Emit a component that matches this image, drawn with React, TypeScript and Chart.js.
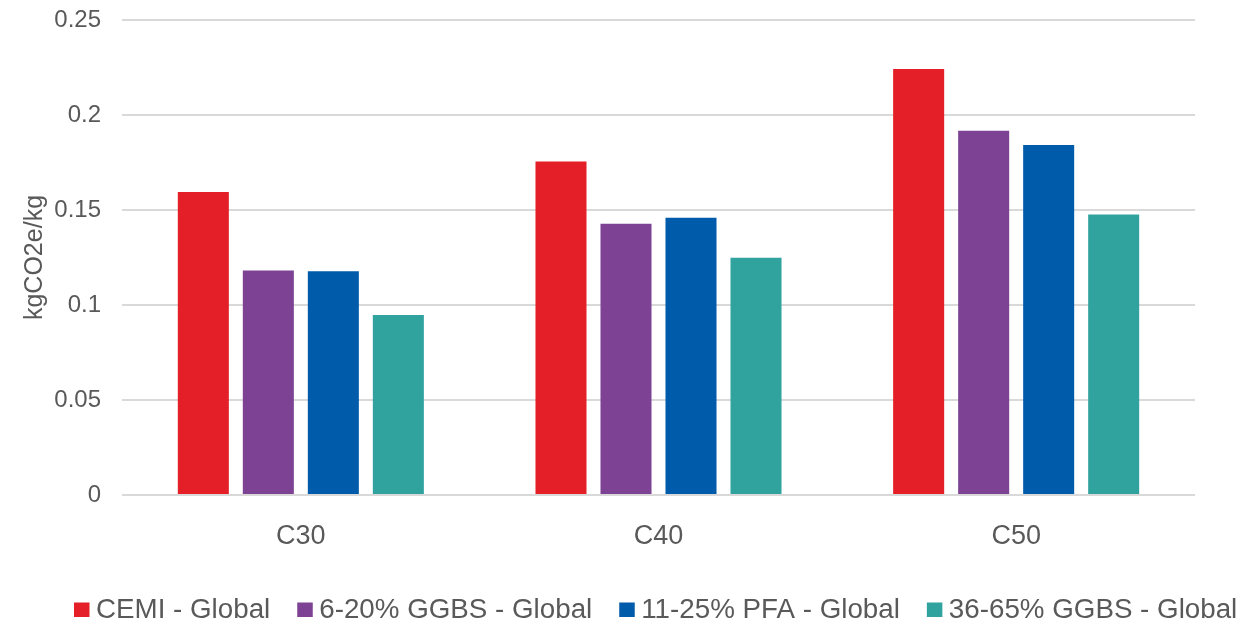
import React, { useEffect, useRef } from "react";
import { Chart, registerables } from "chart.js";

Chart.register(...registerables);

// Embodied carbon per kg of concrete, by strength class and cement blend
const categories = ["C30", "C40", "C50"];
const seriesLabels = [
  "CEMI - Global",
  "6-20% GGBS - Global",
  "11-25% PFA - Global",
  "36-65% GGBS - Global",
];
const cemiValues = [0.1595, 0.1755, 0.2242];
const ggbs620Values = [0.1182, 0.1427, 0.1917];
const pfa1125Values = [0.1177, 0.1459, 0.1842];
const ggbs3665Values = [0.0948, 0.1249, 0.1476];
const seriesColors = ["#E41F27", "#7D4293", "#005BAA", "#31A39E"];

const yTicks = [0, 0.05, 0.1, 0.15, 0.2, 0.25];
const yTitle = "kgCO2e/kg";

const TEXT = "#595959";
const GRID = "#D9D9D9";
const FONT = '"Liberation Sans", Arial, sans-serif';

// Legend drawn in one row under the axis, square swatch followed by the label
const bottomLegend = {
  id: "bottomLegend",
  afterDraw(chart: any) {
    const ctx = chart.ctx;
    ctx.save();
    ctx.font = `27.75px ${FONT}`;
    ctx.textBaseline = "alphabetic";
    ctx.textAlign = "left";
    let x = 74;
    const baseline = 618;
    chart.data.datasets.forEach((ds: any) => {
      ctx.fillStyle = ds.backgroundColor;
      ctx.fillRect(x, 602.5, 15.5, 14.5);
      x += 15.5 + 6.5;
      ctx.fillStyle = TEXT;
      ctx.fillText(ds.label, x, baseline);
      x += ctx.measureText(ds.label).width + 27;
    });
    ctx.restore();
  },
};

export default function App() {
  const canvasRef = useRef<HTMLCanvasElement | null>(null);

  useEffect(() => {
    if (!canvasRef.current) return;
    const seriesValues = [cemiValues, ggbs620Values, pfa1125Values, ggbs3665Values];
    const chart = new Chart(canvasRef.current, {
      type: "bar",
      data: {
        labels: categories,
        datasets: seriesValues.map((values, i) => ({
          label: seriesLabels[i],
          data: values,
          backgroundColor: seriesColors[i],
          borderWidth: 0,
          categoryPercentage: 0.727,
          barPercentage: 0.785,
        })),
      },
      options: {
        animation: false,
        responsive: false,
        maintainAspectRatio: false,
        layout: { padding: { top: 20, right: 52, left: 0, bottom: 0 } },
        plugins: {
          legend: { display: false },
          tooltip: { enabled: false },
        },
        scales: {
          x: {
            grid: { display: false },
            border: { display: false },
            ticks: {
              color: TEXT,
              font: { family: FONT, size: 27 },
              padding: 17,
            },
            afterFit(scale: any) {
              scale.height = 137;
            },
          },
          y: {
            min: 0,
            max: 0.25,
            afterBuildTicks(scale: any) {
              scale.ticks = yTicks.map((v) => ({ value: v }));
            },
            grid: { color: GRID, lineWidth: 2, drawTicks: false },
            border: { display: false },
            ticks: {
              color: TEXT,
              font: { family: FONT, size: 24 },
              padding: 21,
              callback: (v: any) => String(Number(Number(v).toFixed(2))),
            },
            title: {
              display: true,
              text: yTitle,
              color: TEXT,
              font: { family: FONT, size: 25 },
              padding: { top: 20, bottom: 0 },
            },
            afterFit(scale: any) {
              scale.width = 122;
              scale.paddingTop = 0;
              scale.paddingBottom = 0;
            },
          },
        },
      },
      plugins: [bottomLegend],
    });
    return () => chart.destroy();
  }, []);

  return (
    <div style={{ position: "fixed", left: 0, top: 0, width: 1247, height: 632, background: "#fff" }}>
      <canvas ref={canvasRef} width={1247} height={632} style={{ display: "block" }} />
    </div>
  );
}
